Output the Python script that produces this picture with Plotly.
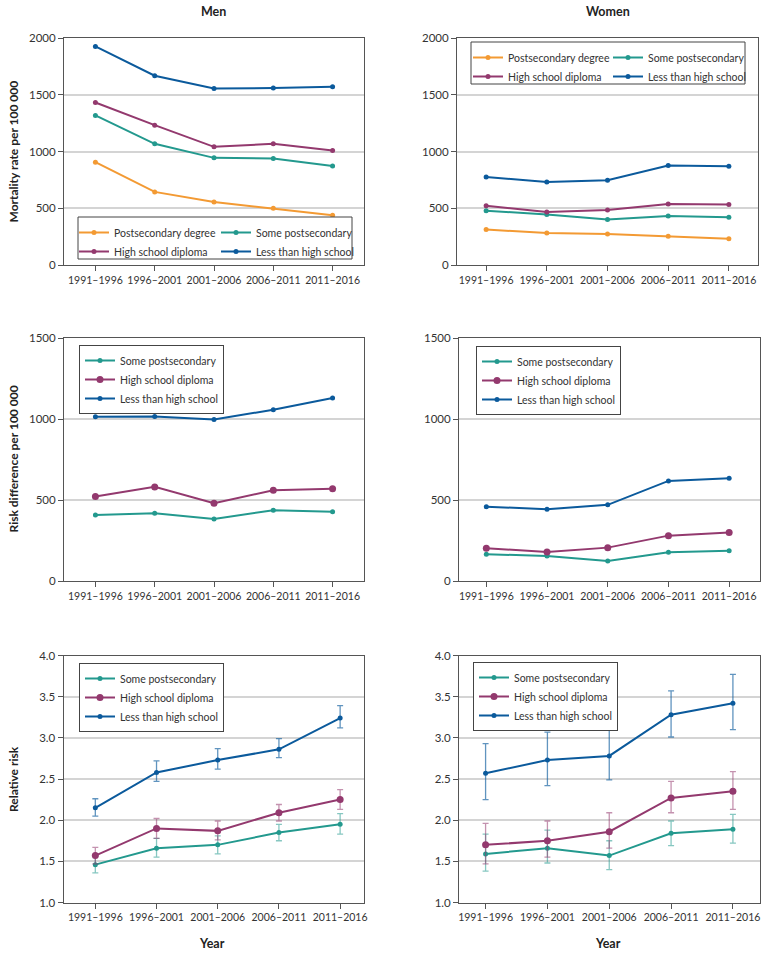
import plotly.graph_objects as go

periods = ["1991–1996", "1996–2001", "2001–2006", "2006–2011", "2011–2016"]

# Mortality rate per 100 000
men_rate_postsec = [906, 644, 556, 500, 438]
men_rate_some = [1318, 1068, 944, 938, 873]
men_rate_hs = [1432, 1232, 1041, 1068, 1009]
men_rate_less = [1926, 1668, 1556, 1559, 1571]

women_rate_postsec = [312, 282, 274, 253, 232]
women_rate_some = [479, 444, 400, 432, 421]
women_rate_hs = [521, 468, 485, 538, 532]
women_rate_less = [776, 732, 747, 876, 870]

# Risk difference per 100 000
men_rd_some = [408, 418, 383, 437, 428]
men_rd_hs = [521, 581, 480, 560, 569]
men_rd_less = [1014, 1016, 997, 1057, 1129]

women_rd_some = [165, 155, 124, 177, 187]
women_rd_hs = [202, 179, 206, 280, 299]
women_rd_less = [459, 443, 470, 618, 634]

# Relative risk with 95% CI
men_rr_some = [1.46, 1.66, 1.70, 1.85, 1.95]
men_rr_some_lo = [1.36, 1.55, 1.59, 1.75, 1.83]
men_rr_some_hi = [1.56, 1.78, 1.81, 1.95, 2.08]
men_rr_hs = [1.57, 1.90, 1.87, 2.09, 2.25]
men_rr_hs_lo = [1.47, 1.78, 1.76, 1.99, 2.13]
men_rr_hs_hi = [1.67, 2.02, 1.99, 2.19, 2.37]
men_rr_less = [2.15, 2.58, 2.73, 2.86, 3.24]
men_rr_less_lo = [2.05, 2.47, 2.62, 2.76, 3.12]
men_rr_less_hi = [2.26, 2.72, 2.87, 2.99, 3.39]

women_rr_some = [1.59, 1.66, 1.57, 1.84, 1.89]
women_rr_some_lo = [1.38, 1.48, 1.40, 1.69, 1.72]
women_rr_some_hi = [1.83, 1.88, 1.75, 1.99, 2.07]
women_rr_hs = [1.70, 1.75, 1.86, 2.27, 2.35]
women_rr_hs_lo = [1.47, 1.55, 1.66, 2.09, 2.13]
women_rr_hs_hi = [1.96, 1.99, 2.09, 2.47, 2.59]
women_rr_less = [2.57, 2.73, 2.78, 3.28, 3.42]
women_rr_less_lo = [2.25, 2.42, 2.49, 3.01, 3.10]
women_rr_less_hi = [2.93, 3.07, 3.10, 3.57, 3.77]

C_POST = "#F39A33"
C_SOME = "#23998E"
C_HS = "#93396E"
C_LESS = "#0B5A9C"
C_SOME_E = "rgba(35,153,142,0.55)"
C_HS_E = "rgba(147,57,110,0.55)"
C_LESS_E = "rgba(11,90,156,0.65)"

W, H = 767, 955
FONT = "Lato, 'Noto Sans', sans-serif"
fig = go.Figure()


def px_x(a, b):
    return [a / W, b / W]


def px_y(top, bottom):
    return [1 - bottom / H, 1 - top / H]


idx = list(range(len(periods)))


def add_line(name, vals, color, xa, ya, leg, msize=5, err=None, ecolor=None):
    kw = {}
    if err is not None:
        lo, hi = err
        kw["error_y"] = dict(type="data", symmetric=False,
                             array=[h - v for h, v in zip(hi, vals)],
                             arrayminus=[v - l for l, v in zip(lo, vals)],
                             color=ecolor, thickness=1.3, width=3)
    fig.add_trace(go.Scatter(
        x=idx, y=vals, name=name, mode="lines+markers",
        line=dict(color=color, width=2), marker=dict(color=color, size=msize),
        xaxis=xa, yaxis=ya, legend=leg, **kw))


# Panel 1: men rate (two-column legend: legend / legend7)
add_line("Postsecondary degree", men_rate_postsec, C_POST, "x", "y", "legend")
add_line("Some postsecondary", men_rate_some, C_SOME, "x", "y", "legend7")
add_line("High school diploma", men_rate_hs, C_HS, "x", "y", "legend")
add_line("Less than high school", men_rate_less, C_LESS, "x", "y", "legend7")
# Panel 2: women rate (legend2 / legend8)
add_line("Postsecondary degree", women_rate_postsec, C_POST, "x2", "y2", "legend2")
add_line("Some postsecondary", women_rate_some, C_SOME, "x2", "y2", "legend8")
add_line("High school diploma", women_rate_hs, C_HS, "x2", "y2", "legend2")
add_line("Less than high school", women_rate_less, C_LESS, "x2", "y2", "legend8")
# Panel 3: men RD
add_line("Some postsecondary", men_rd_some, C_SOME, "x3", "y3", "legend3")
add_line("High school diploma", men_rd_hs, C_HS, "x3", "y3", "legend3", msize=7)
add_line("Less than high school", men_rd_less, C_LESS, "x3", "y3", "legend3")
# Panel 4: women RD
add_line("Some postsecondary", women_rd_some, C_SOME, "x4", "y4", "legend4")
add_line("High school diploma", women_rd_hs, C_HS, "x4", "y4", "legend4", msize=7)
add_line("Less than high school", women_rd_less, C_LESS, "x4", "y4", "legend4")
# Panel 5: men RR
add_line("Some postsecondary", men_rr_some, C_SOME, "x5", "y5", "legend5",
         err=(men_rr_some_lo, men_rr_some_hi), ecolor=C_SOME_E)
add_line("High school diploma", men_rr_hs, C_HS, "x5", "y5", "legend5", msize=7,
         err=(men_rr_hs_lo, men_rr_hs_hi), ecolor=C_HS_E)
add_line("Less than high school", men_rr_less, C_LESS, "x5", "y5", "legend5",
         err=(men_rr_less_lo, men_rr_less_hi), ecolor=C_LESS_E)
# Panel 6: women RR
add_line("Some postsecondary", women_rr_some, C_SOME, "x6", "y6", "legend6",
         err=(women_rr_some_lo, women_rr_some_hi), ecolor=C_SOME_E)
add_line("High school diploma", women_rr_hs, C_HS, "x6", "y6", "legend6", msize=7,
         err=(women_rr_hs_lo, women_rr_hs_hi), ecolor=C_HS_E)
add_line("Less than high school", women_rr_less, C_LESS, "x6", "y6", "legend6",
         err=(women_rr_less_lo, women_rr_less_hi), ecolor=C_LESS_E)

panels = [
    # (xdomain px, ydomain px, xrange, yrange, dtick, fmt)
    ((64, 364), (38, 265), [-0.53, 4.53], [0, 2000], 500, None),
    ((457, 758), (38, 265), [-0.48, 4.48], [0, 2000], 500, None),
    ((64, 364), (338, 581), [-0.53, 4.53], [0, 1500], 500, None),
    ((459, 759.5), (338, 581), [-0.45, 4.5], [0, 1500], 500, None),
    ((63.5, 364), (655.5, 902.5), [-0.52, 4.39], [1, 4], 0.5, ".1f"),
    ((459, 759.5), (655.5, 902.5), [-0.43, 4.43], [1, 4], 0.5, ".1f"),
]

layout = dict(
    width=W, height=H, margin=dict(l=0, r=0, t=0, b=0, autoexpand=False),
    paper_bgcolor="white", plot_bgcolor="white",
    font=dict(family=FONT, size=11, color="#333333"),
    showlegend=True,
)

for i, (xd, yd, xr, yr, dt, fmt) in enumerate(panels, start=1):
    sx = "" if i == 1 else str(i)
    layout["xaxis" + sx] = dict(
        domain=px_x(*xd), range=xr, tickmode="array", tickvals=idx, ticktext=periods,
        tickangle=0, showgrid=False, zeroline=False, showline=True, mirror=True,
        linecolor="#555555", linewidth=1, ticks="outside", ticklen=5, tickcolor="#555555",
        tickfont=dict(size=10.5, color="#333333"), anchor="y" + sx, fixedrange=True)
    ya = dict(
        domain=px_y(*yd), range=yr, dtick=dt, tick0=0,
        showgrid=True, gridcolor="#d4d4d4", gridwidth=1.5, zeroline=False,
        showline=True, mirror=True, linecolor="#555555", linewidth=1,
        ticks="outside", ticklen=5, tickcolor="#555555",
        tickfont=dict(size=11.5, color="#333333"), anchor="x" + sx, fixedrange=True)
    if fmt:
        ya["tickformat"] = fmt
    layout["yaxis" + sx] = ya

leg_font = dict(size=10.5, color="#333333")
leg_plain = dict(bgcolor="rgba(0,0,0,0)", borderwidth=0, font=leg_font,
                 xanchor="left", yanchor="top", tracegroupgap=0, itemwidth=30,
                 orientation="v")
leg_box = dict(bgcolor="white", bordercolor="#444444", borderwidth=1, font=leg_font,
               xanchor="left", yanchor="top", tracegroupgap=0, itemwidth=30,
               orientation="v")
# two-column legends (left px, top px), framed by a shape
leg_pos2 = {
    "legend": (74, 218), "legend7": (216, 218),
    "legend2": (468, 43), "legend8": (608, 43),
}
for k, (lx, ly) in leg_pos2.items():
    layout[k] = dict(leg_plain, x=lx / W, y=1 - ly / H)
# three-row legends with their own frame
leg_pos3 = {"legend3": (79, 345), "legend4": (476, 346),
            "legend5": (79, 663), "legend6": (473, 662)}
for k, (lx, ly) in leg_pos3.items():
    layout[k] = dict(leg_box, x=lx / W, y=1 - ly / H)

frames = [(78, 217, 352, 259), (471, 42, 745, 84)]
layout["shapes"] = [dict(type="rect", xref="paper", yref="paper",
                         x0=x0 / W, x1=x1 / W, y0=1 - y1 / H, y1=1 - y0 / H,
                         line=dict(color="#444444", width=1), fillcolor="white",
                         layer="above") for x0, y0, x1, y1 in frames]

fig.update_layout(**layout)

ann = []
title_font = dict(family=FONT, size=12.5, color="#222222")
for txt, xp, yp in [("<b>Men</b>", 213, 12), ("<b>Women</b>", 608, 12),
                    ("<b>Year</b>", 212, 943), ("<b>Year</b>", 608, 943)]:
    ann.append(dict(text=txt, x=xp / W, y=1 - yp / H, xref="paper", yref="paper",
                    showarrow=False, xanchor="center", yanchor="middle", font=title_font))
for txt, yp in [("<b>Mortality rate per 100 000</b>", 151.5),
                ("<b>Risk difference per 100 000</b>", 459.5),
                ("<b>Relative risk</b>", 779)]:
    ann.append(dict(text=txt, x=13 / W, y=1 - yp / H, xref="paper", yref="paper",
                    showarrow=False, xanchor="center", yanchor="middle", textangle=-90,
                    font=dict(title_font, size=12)))
fig.update_layout(annotations=ann)

fig.write_html("out.html", config={"displayModeBar": False},
               post_script="document.body.style.margin='0px';"
                           "document.body.style.overflow='hidden';")
